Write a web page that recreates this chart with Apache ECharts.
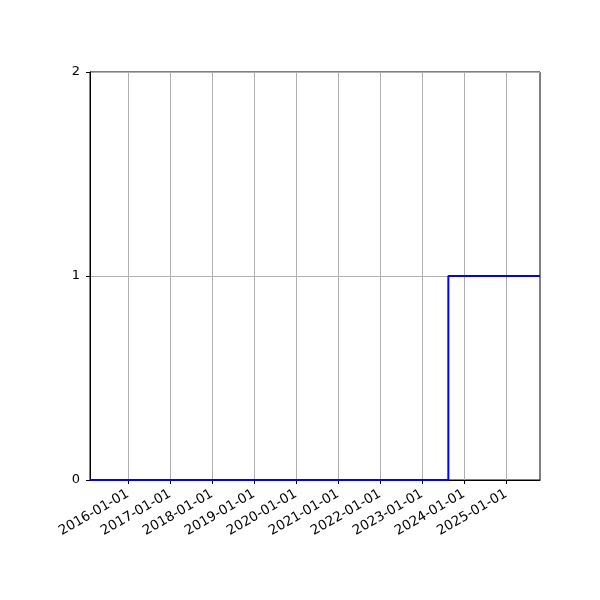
<!DOCTYPE html>
<html>
<head>
<meta charset="utf-8">
<script src="https://cdn.jsdelivr.net/npm/echarts@6/dist/echarts.min.js"></script>
<style>html,body{margin:0;padding:0;background:#fff}#c{width:600px;height:600px}</style>
</head>
<body>
<div id="c"></div>
<script>
const xStart = '2015-02-05';
const xEnd = '2025-10-23';
const stepDates = ['2015-02-05', '2023-08-18', '2025-10-23'];
const stepValues = [0, 1, 1];
const tickYears = [2016, 2017, 2018, 2019, 2020, 2021, 2022, 2023, 2024, 2025];
const yTicks = [0, 1, 2];

function ts(s) { const p = s.split('-').map(Number); return Date.UTC(p[0], p[1] - 1, p[2]); }
const tickValues = tickYears.map(y => Date.UTC(y, 0, 1));
const pad = n => (n < 10 ? '0' : '') + n;

const chart = echarts.init(document.getElementById('c'), null, { renderer: 'canvas' });
chart.setOption({
  animation: false,
  backgroundColor: '#ffffff',
  textStyle: { fontFamily: 'DejaVu Sans' },
  grid: { left: 90, right: 60, top: 72, bottom: 120, show: true, borderColor: '#000', borderWidth: 1, backgroundColor: 'transparent', containLabel: false },
  xAxis: {
    type: 'value',
    min: ts(xStart),
    max: ts(xEnd),
    axisLine: { show: true, lineStyle: { color: '#000', width: 1 } },
    axisTick: { show: true, length: 4, lineStyle: { color: '#000', width: 1 }, customValues: tickValues },
    axisLabel: {
      customValues: tickValues,
      rotate: 30,
      margin: 13,
      color: '#000',
      fontSize: 13.5,
      fontFamily: 'DejaVu Sans',
      formatter: function (v) { const d = new Date(v); return d.getUTCFullYear() + '-' + pad(d.getUTCMonth() + 1) + '-' + pad(d.getUTCDate()); }
    },
    splitLine: { show: true, lineStyle: { color: '#b0b0b0', width: 1 } }
  },
  yAxis: {
    type: 'value',
    min: yTicks[0],
    max: yTicks[yTicks.length - 1],
    interval: 1,
    axisLine: { show: true, lineStyle: { color: '#000', width: 1 } },
    axisTick: { show: true, length: 4, lineStyle: { color: '#000', width: 1 } },
    axisLabel: { color: '#000', fontSize: 13, margin: 10, fontFamily: 'DejaVu Sans' },
    splitLine: { show: true, lineStyle: { color: '#b0b0b0', width: 1 } }
  },
  series: [{
    type: 'line',
    step: 'end',
    showSymbol: false,
    symbol: 'none',
    data: stepDates.map((d, i) => [ts(d), stepValues[i]]),
    lineStyle: { color: '#0000ff', width: 2 },
    itemStyle: { color: '#0000ff' },
    z: 5
  }]
});
</script>
</body>
</html>
